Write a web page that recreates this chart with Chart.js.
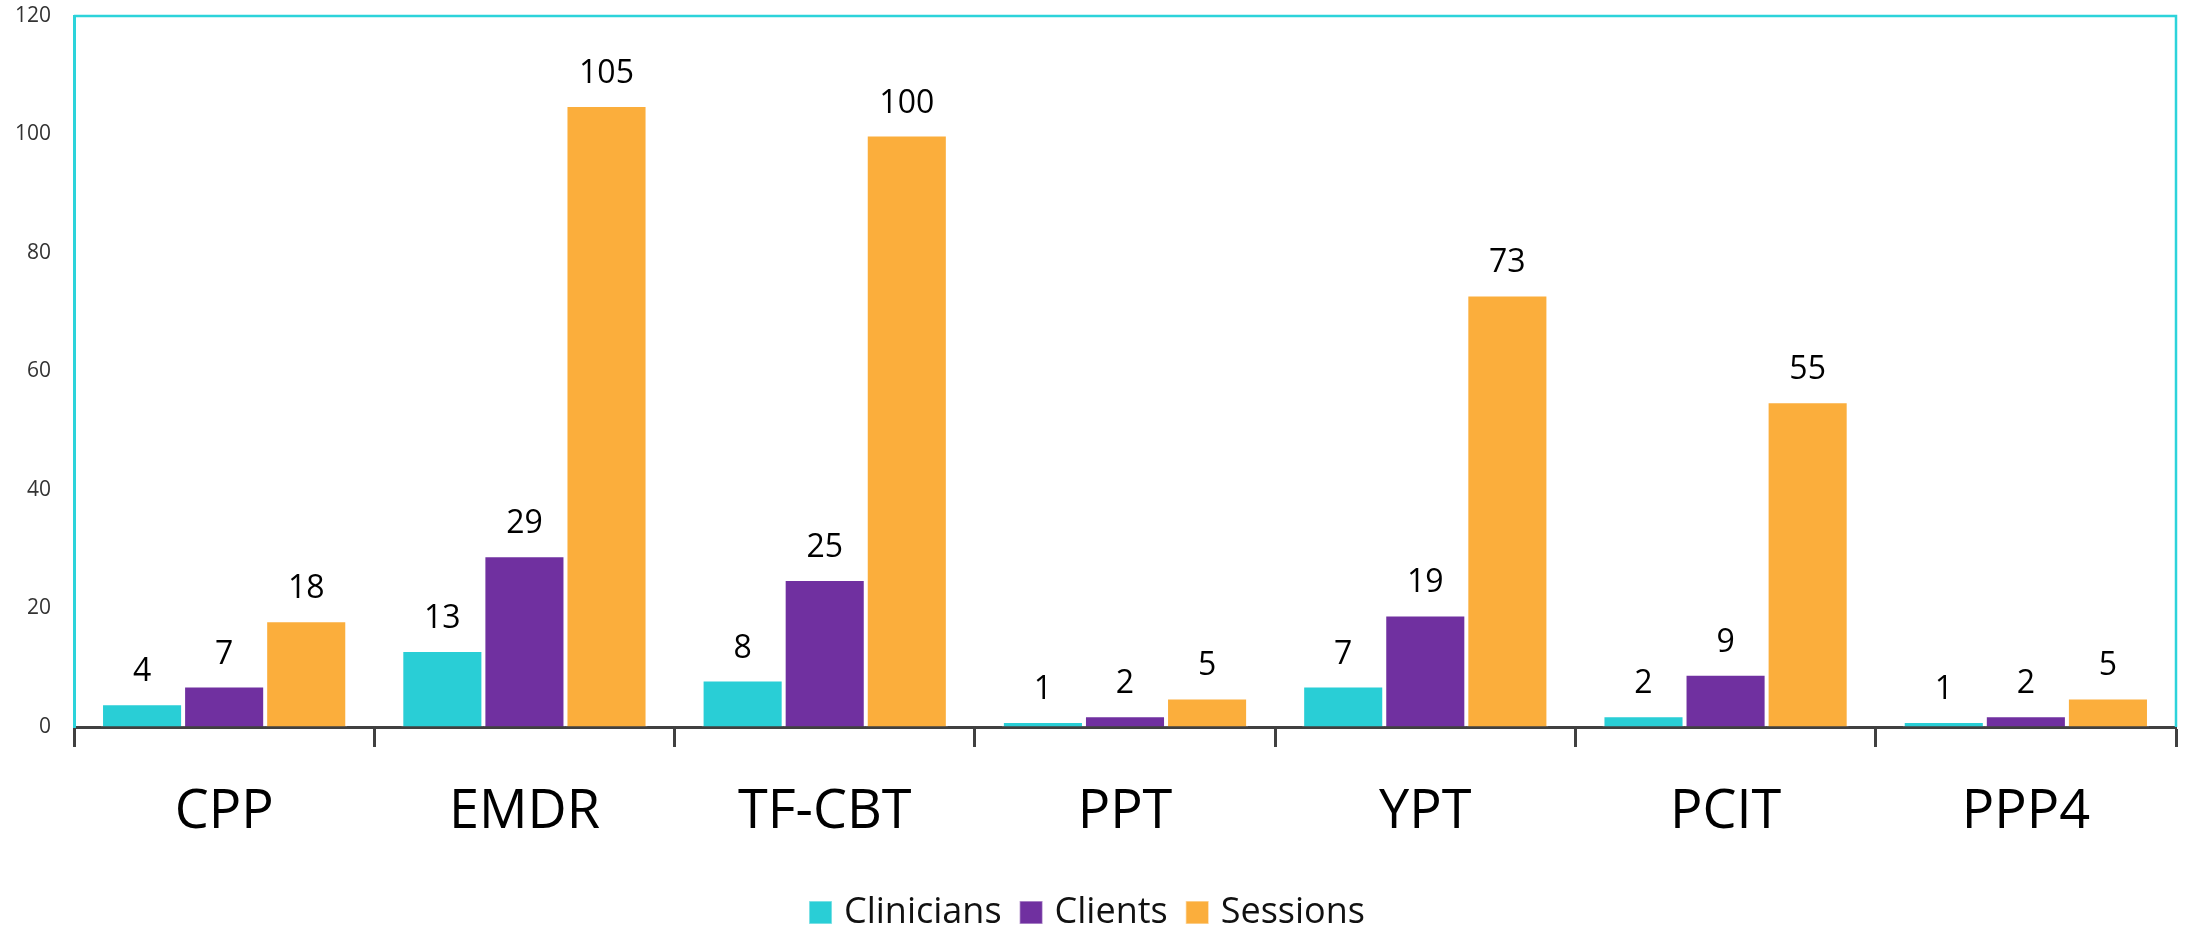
<!DOCTYPE html>
<html>
<head>
<meta charset="utf-8">
<script src="https://cdn.jsdelivr.net/npm/chart.js@4"></script>
<style>
    html, body { margin: 0; padding: 0; background: #fff; }
    #chart { display: block; }
</style>
</head>
<body>
<canvas id="chart" width="2188" height="928"></canvas>
<script>
const categories = ['CPP', 'EMDR', 'TF-CBT', 'PPT', 'YPT', 'PCIT', 'PPP4'];
const clinicians = [4, 13, 8, 1, 7, 2, 1];
const clients = [7, 29, 25, 2, 19, 9, 2];
const sessions = [18, 105, 100, 5, 73, 55, 5];
const yTicks = [0, 20, 40, 60, 80, 100, 120];

const FONT = "'Open Sans', 'Noto Sans', sans-serif";

// cyan frame on top and right of the plot area
const frameLines = {
    id: 'frameLines',
    beforeDatasetsDraw(chart) {
        const { ctx, chartArea: a } = chart;
        ctx.save();
        ctx.strokeStyle = '#2CD3DA';
        ctx.lineWidth = 2.5;
        ctx.beginPath();
        ctx.moveTo(a.left, a.top);
        ctx.lineTo(a.right, a.top);
        ctx.lineTo(a.right, a.bottom);
        ctx.stroke();
        ctx.restore();
    }
};

// value labels above each bar
const valueLabels = {
    id: 'valueLabels',
    afterDatasetsDraw(chart) {
        const ctx = chart.ctx;
        ctx.save();
        ctx.font = '32px ' + FONT;
        ctx.fillStyle = '#000';
        ctx.textAlign = 'center';
        ctx.textBaseline = 'alphabetic';
        chart.data.datasets.forEach((ds, i) => {
            chart.getDatasetMeta(i).data.forEach((bar, j) => {
                ctx.fillText(String(ds.data[j]), bar.x, bar.y - 22);
            });
        });
        ctx.restore();
    }
};

// legend row under the axis labels
const bottomLegend = {
    id: 'bottomLegend',
    afterDraw(chart) {
        const ctx = chart.ctx;
        const box = 23, gap = 12, spacing = 18;
        ctx.save();
        ctx.font = '36px ' + FONT;
        const items = chart.data.datasets.map(ds => ({
            label: ds.label,
            color: ds.backgroundColor,
            w: ctx.measureText(ds.label).width
        }));
        const total = items.reduce((s, it) => s + box + gap + it.w, 0) + spacing * (items.length - 1);
        let x = chart.width / 2 - 7 - total / 2;
        const baseline = 923;
        items.forEach(it => {
            ctx.fillStyle = it.color;
            ctx.fillRect(x, baseline - 22, box, box);
            ctx.strokeStyle = 'rgba(255,255,255,0.5)';
            ctx.lineWidth = 1.5;
            ctx.strokeRect(x, baseline - 22, box, box);
            ctx.fillStyle = '#111';
            ctx.textAlign = 'left';
            ctx.textBaseline = 'alphabetic';
            ctx.fillText(it.label, x + box + gap, baseline);
            x += box + gap + it.w + spacing;
        });
        ctx.restore();
    }
};

new Chart(document.getElementById('chart'), {
    type: 'bar',
    data: {
        labels: categories,
        datasets: [
            { label: 'Clinicians', data: clinicians, backgroundColor: '#29CED6' },
            { label: 'Clients', data: clients, backgroundColor: '#7030A0' },
            { label: 'Sessions', data: sessions, backgroundColor: '#FBAE3C' }
        ].map(d => Object.assign(d, {
            borderColor: 'rgba(255,255,255,0.55)',
            borderWidth: 2,
            borderSkipped: 'bottom',
            categoryPercentage: 0.82,
            barPercentage: 1.0
        }))
    },
    options: {
        responsive: false,
        animation: false,
        layout: { padding: { top: 16, right: 12, left: 0, bottom: 0 } },
        plugins: {
            tooltip: { enabled: false },
            legend: { display: false }
        },
        scales: {
            x: {
                grid: {
                    drawOnChartArea: false,
                    drawTicks: true,
                    tickLength: 20,
                    tickWidth: 3,
                    tickColor: '#404040',
                    offset: true
                },
                border: { color: '#404040', width: 3 },
                ticks: {
                    color: '#000',
                    padding: 33,
                    font: { family: FONT, size: 54 }
                },
                afterFit(scale) {
                    scale.height = 928 - 727;
                }
            },
            y: {
                min: 0,
                max: 120,
                // invisible ticks give the gap between labels and axis
                grid: { drawOnChartArea: false, drawTicks: true, tickLength: 23, tickColor: 'rgba(0,0,0,0)' },
                border: { color: '#2CD3DA', width: 3 },
                afterBuildTicks(scale) {
                    scale.ticks = yTicks.map(v => ({ value: v }));
                },
                ticks: {
                    color: '#333',
                    padding: 0,
                    font: { family: FONT, size: 21 }
                },
                afterFit(scale) {
                    scale.width = 74;
                }
            }
        }
    },
    plugins: [frameLines, valueLabels, bottomLegend]
});
</script>
</body>
</html>
